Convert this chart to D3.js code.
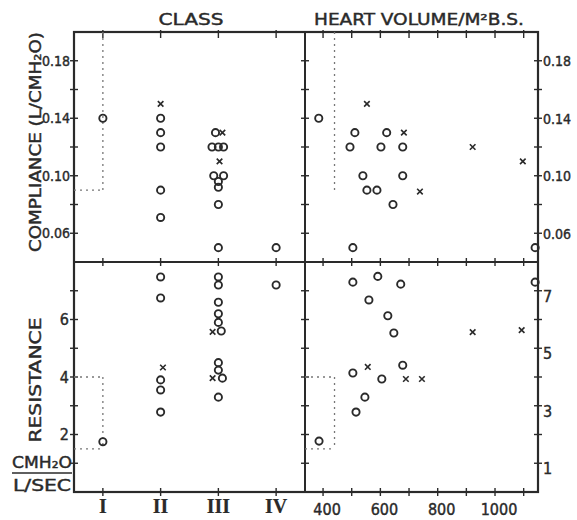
<!DOCTYPE html>
<html>
<head>
<meta charset="utf-8">
<script src="https://cdn.jsdelivr.net/npm/d3@7"></script>
<style>
  html, body { margin: 0; padding: 0; background: #fff; }
  svg { display: block; }
  text { font-family: "DejaVu Sans Condensed", "Liberation Sans Narrow", "DejaVu Sans", sans-serif; fill: #2a2a2a; stroke: #2a2a2a; stroke-width: 0.4px; }
  .serif { font-family: "Liberation Serif", "DejaVu Serif", serif; font-weight: bold; stroke-width: 0.2px; }
</style>
</head>
<body>
<svg id="chart" width="577" height="520"></svg>
<script>
// ---------- tick labels ----------
const classTicks = [1, 2, 3, 4];
const classLabels = ["I", "II", "III", "IV"];
const hvTicks = [400, 500, 600, 700, 800, 900, 1000, 1100];
const hvLabels = [400, 600, 800, 1000];
const complianceTicks = [0.06, 0.08, 0.10, 0.12, 0.14, 0.16, 0.18];
const complianceLabels = [0.18, 0.14, 0.10, 0.06];
const resistanceTicks = [1, 2, 3, 4, 5, 6, 7];
const resistanceLeftLabels = [2, 4, 6];
const resistanceRightLabels = [1, 3, 5, 7];

// ---------- normal ranges (dotted) ----------
const normalClass = 1;
const normalHV = 440;
const normalCompliance = [0.09, 0.20];
const normalResistance = [1.5, 4.0];

// ---------- Compliance vs Class ----------
const compClassX = [1, 2, 2, 2, 2, 2, 2, 2.95, 3.07, 2.89, 3.0, 3.09, 3.02, 2.92, 3.09, 3.0, 3.0, 3.0, 3.0, 4];
const compClassY = [0.14, 0.15, 0.14, 0.13, 0.12, 0.09, 0.071, 0.13, 0.13, 0.12, 0.12, 0.12, 0.11, 0.10, 0.10, 0.096, 0.092, 0.08, 0.05, 0.05];
const compClassMark = ["o", "x", "o", "o", "o", "o", "o", "o", "x", "o", "o", "o", "x", "o", "o", "o", "o", "o", "o", "o"];

// ---------- Compliance vs Heart volume ----------
const compHVX = [385, 553, 511, 622, 682, 494, 602, 678, 922, 1097, 539, 678, 553, 588, 738, 644, 504, 1140];
const compHVY = [0.14, 0.15, 0.13, 0.13, 0.13, 0.12, 0.12, 0.12, 0.12, 0.11, 0.10, 0.10, 0.09, 0.09, 0.089, 0.08, 0.05, 0.05];
const compHVMark = ["o", "x", "o", "o", "x", "o", "o", "o", "x", "x", "o", "o", "o", "o", "x", "o", "o", "o"];

// ---------- Resistance vs Class ----------
const resClassX = [1, 2, 2, 2.04, 2, 2, 2, 3, 3, 3, 3, 3, 3.05, 2.9, 3, 3, 3.07, 2.9, 3, 4];
const resClassY = [1.75, 7.48, 6.75, 4.33, 3.9, 3.55, 2.78, 7.48, 7.2, 6.6, 6.2, 5.9, 5.6, 5.57, 4.5, 4.24, 3.96, 3.96, 3.3, 7.2];
const resClassMark = ["o", "o", "o", "x", "o", "o", "o", "o", "o", "o", "o", "o", "o", "x", "o", "o", "o", "x", "o", "o"];

// ---------- Resistance vs Heart volume ----------
const resHVX = [504, 591, 671, 1140, 560, 626, 647, 922, 1093, 556, 504, 678, 605, 689, 745, 546, 515, 386];
const resHVY = [7.3, 7.5, 7.23, 7.3, 6.68, 6.13, 5.53, 5.56, 5.63, 4.35, 4.14, 4.41, 3.93, 3.93, 3.93, 3.3, 2.78, 1.77];
const resHVMark = ["o", "o", "o", "o", "o", "o", "o", "x", "x", "x", "o", "o", "o", "x", "x", "o", "o", "o"];

// ---------- layout ----------
const L = 74, M = 305, R = 538, T = 32, H = 262, B = 492;
const ink = "#2a2a2a";

const svg = d3.select("#chart");
svg.append("rect").attr("width", 577).attr("height", 520).attr("fill", "#fff");

const classX = d3.scaleLinear().domain([0.5, 4.5]).range([L, M]);
const hvX = d3.scaleLinear().domain([337, 1150]).range([M, R]);
const compY = d3.scaleLinear().domain([0.04, 0.20]).range([H, T]);
const resY = d3.scaleLinear().domain([0, 8]).range([B, H]);

// frame
const frame = svg.append("g").attr("stroke", ink).attr("fill", "none");
frame.append("rect").attr("x", L).attr("y", T).attr("width", R - L).attr("height", B - T).attr("stroke-width", 2.2);
frame.append("line").attr("x1", M).attr("x2", M).attr("y1", T).attr("y2", B).attr("stroke-width", 2);
frame.append("line").attr("x1", L).attr("x2", R).attr("y1", H).attr("y2", H).attr("stroke-width", 2);

// ticks crossing a line
function xTicks(scale, values, y) {
  svg.append("g").selectAll("line").data(values).join("line")
    .attr("x1", d => scale(d)).attr("x2", d => scale(d))
    .attr("y1", y - 4).attr("y2", y + 4)
    .attr("stroke", ink).attr("stroke-width", 1.4);
}
function yTicks(scale, values, x) {
  svg.append("g").selectAll("line").data(values).join("line")
    .attr("y1", d => scale(d)).attr("y2", d => scale(d))
    .attr("x1", x - 4).attr("x2", x + 4)
    .attr("stroke", ink).attr("stroke-width", 1.4);
}
xTicks(classX, classTicks, T + 2);
xTicks(classX, classTicks, H);
xTicks(classX, classTicks, B);
xTicks(hvX, hvTicks, T + 2);
xTicks(hvX, hvTicks, H);
xTicks(hvX, hvTicks, B);
[L, M, R].forEach(x => { yTicks(compY, complianceTicks, x); yTicks(resY, resistanceTicks, x); });

// dotted normal ranges
const dot = svg.append("g").attr("stroke", "#777").attr("stroke-width", 1.3).attr("stroke-dasharray", "2,4").attr("fill", "none");
dot.append("line").attr("x1", classX(normalClass)).attr("x2", classX(normalClass))
  .attr("y1", compY(normalCompliance[1])).attr("y2", compY(normalCompliance[0]));
dot.append("line").attr("x1", L).attr("x2", classX(normalClass))
  .attr("y1", compY(normalCompliance[0])).attr("y2", compY(normalCompliance[0]));
dot.append("line").attr("x1", hvX(normalHV)).attr("x2", hvX(normalHV))
  .attr("y1", compY(normalCompliance[1])).attr("y2", compY(normalCompliance[0]));
dot.append("line").attr("x1", classX(normalClass)).attr("x2", classX(normalClass))
  .attr("y1", resY(normalResistance[1])).attr("y2", resY(normalResistance[0]));
normalResistance.forEach(v => {
  dot.append("line").attr("x1", L).attr("x2", classX(normalClass)).attr("y1", resY(v)).attr("y2", resY(v));
  dot.append("line").attr("x1", M).attr("x2", hvX(normalHV)).attr("y1", resY(v)).attr("y2", resY(v));
});
dot.append("line").attr("x1", hvX(normalHV)).attr("x2", hvX(normalHV))
  .attr("y1", resY(normalResistance[1])).attr("y2", resY(normalResistance[0]));

// points
const timesSym = d3.symbol().type(d3.symbolTimes).size(22);
function drawPoints(xs, ys, marks, sx, sy) {
  const g = svg.append("g");
  xs.forEach((xv, i) => {
    const px = sx(xv), py = sy(ys[i]);
    if (marks[i] === "o") {
      g.append("circle").attr("cx", px).attr("cy", py).attr("r", 3.6)
        .attr("fill", "none").attr("stroke", ink).attr("stroke-width", 1.9);
    } else {
      g.append("path").attr("d", timesSym()).attr("transform", `translate(${px},${py})`)
        .attr("fill", ink).attr("stroke", ink).attr("stroke-width", 1.6);
    }
  });
}
drawPoints(compClassX, compClassY, compClassMark, classX, compY);
drawPoints(compHVX, compHVY, compHVMark, hvX, compY);
drawPoints(resClassX, resClassY, resClassMark, classX, resY);
drawPoints(resHVX, resHVY, resHVMark, hvX, resY);

// tick labels
const fmt2 = d3.format(".2f");
svg.append("g").selectAll("text").data(complianceLabels).join("text")
  .attr("x", 70).attr("y", d => compY(d)).attr("dy", "0.36em")
  .attr("text-anchor", "end").attr("font-size", 14).text(d => fmt2(d));
svg.append("g").selectAll("text").data(complianceLabels).join("text")
  .attr("x", 543).attr("y", d => compY(d)).attr("dy", "0.4em")
  .attr("text-anchor", "start").attr("font-size", 14).text(d => fmt2(d));
svg.append("g").selectAll("text").data(resistanceLeftLabels).join("text")
  .attr("x", 69).attr("y", d => resY(d)).attr("dy", "0.36em")
  .attr("text-anchor", "end").attr("font-size", 16).text(d => d);
svg.append("g").selectAll("text").data(resistanceRightLabels).join("text")
  .attr("x", 543).attr("y", d => resY(d)).attr("dy", "0.7em")
  .attr("text-anchor", "start").attr("font-size", 16).text(d => d);
svg.append("g").selectAll("text").data(classTicks).join("text")
  .attr("class", "serif")
  .attr("x", d => classX(d)).attr("y", 513)
  .attr("text-anchor", "middle").attr("font-size", 20).text((d, i) => classLabels[i]);
svg.append("g").selectAll("text").data(hvLabels).join("text")
  .attr("x", d => hvX(d) + 4).attr("y", 515)
  .attr("text-anchor", "middle").attr("font-size", 16).text(d => d);

// titles
svg.append("text").attr("x", 191).attr("y", 25).attr("text-anchor", "middle")
  .attr("font-size", 16).attr("textLength", 65).attr("lengthAdjust", "spacingAndGlyphs").text("CLASS");
svg.append("text").attr("x", 419).attr("y", 25).attr("text-anchor", "middle")
  .attr("font-size", 16).attr("textLength", 210).attr("lengthAdjust", "spacingAndGlyphs").text("HEART VOLUME/M²B.S.");
svg.append("text").attr("transform", "translate(41,142) rotate(-90)").attr("text-anchor", "middle")
  .attr("font-size", 16).attr("textLength", 220).attr("lengthAdjust", "spacingAndGlyphs").text("COMPLIANCE (L/CMH₂O)");
svg.append("text").attr("transform", "translate(41,380) rotate(-90)").attr("text-anchor", "middle")
  .attr("font-size", 16).attr("textLength", 125).attr("lengthAdjust", "spacingAndGlyphs").text("RESISTANCE");

// units
svg.append("text").attr("x", 42).attr("y", 468).attr("text-anchor", "middle")
  .attr("font-size", 16).attr("textLength", 60).attr("lengthAdjust", "spacingAndGlyphs").text("CMH₂O");
svg.append("line").attr("x1", 12).attr("x2", 72).attr("y1", 473).attr("y2", 473).attr("stroke", ink).attr("stroke-width", 1.5);
svg.append("text").attr("x", 42).attr("y", 491).attr("text-anchor", "middle")
  .attr("font-size", 16).attr("textLength", 58).attr("lengthAdjust", "spacingAndGlyphs").text("L/SEC");
</script>
</body>
</html>
